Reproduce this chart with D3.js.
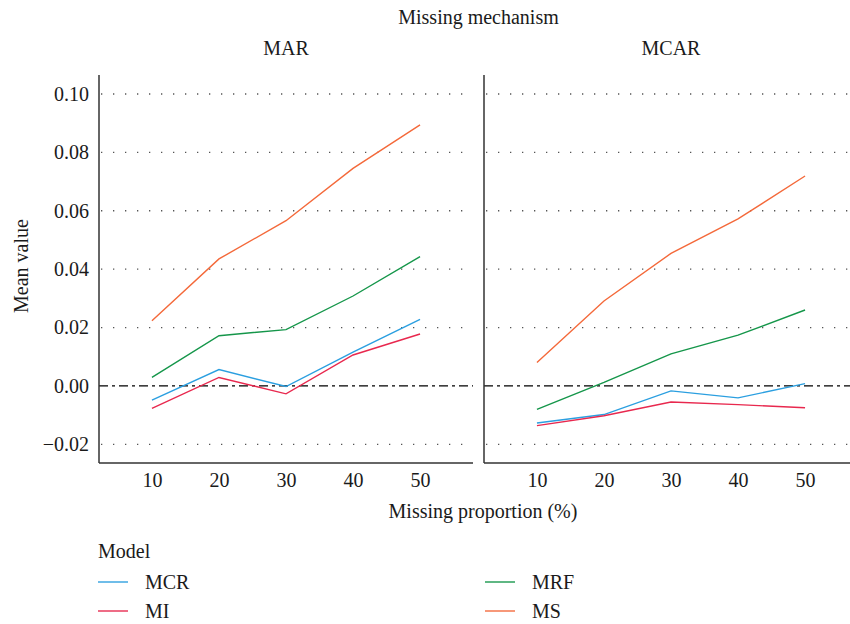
<!DOCTYPE html>
<html><head><meta charset="utf-8">
<script src="https://cdn.jsdelivr.net/npm/d3@7"></script>
<style>body{margin:0;background:#fff}svg{display:block}text{font-family:"Liberation Serif","DejaVu Serif",serif;fill:#1a1a1a}</style>
</head><body>
<script>
const proportions = [10, 20, 30, 40, 50];
const mechanisms = ["MAR", "MCAR"];
const models = ["MCR", "MI", "MRF", "MS"];
const colors = ["#2b9fe0", "#e8284e", "#15964a", "#f4693a"];
const yTicks = [-0.02, 0.00, 0.02, 0.04, 0.06, 0.08, 0.10];
const MAR_MCR = [-0.0049, 0.0056, -0.0002, 0.0116, 0.0228];
const MAR_MI  = [-0.0077, 0.0029, -0.0027, 0.0106, 0.0178];
const MAR_MRF = [0.0029, 0.0172, 0.0193, 0.0308, 0.0443];
const MAR_MS  = [0.0223, 0.0435, 0.0566, 0.0745, 0.0894];
const MCAR_MCR = [-0.0127, -0.0098, -0.0017, -0.0041, 0.0008];
const MCAR_MI  = [-0.0136, -0.0102, -0.0055, -0.0064, -0.0075];
const MCAR_MRF = [-0.0080, 0.0012, 0.0110, 0.0174, 0.0260];
const MCAR_MS  = [0.0080, 0.0291, 0.0454, 0.0572, 0.0719];

const data = {
  MAR: {MCR: MAR_MCR, MI: MAR_MI, MRF: MAR_MRF, MS: MAR_MS},
  MCAR: {MCR: MCAR_MCR, MI: MCAR_MI, MRF: MCAR_MRF, MS: MCAR_MS}
};

const W = 850, H = 624;
const svg = d3.select("body").append("svg").attr("width", W).attr("height", H);
const pTop = 75, pBottom = 463;
const panels = [{name: mechanisms[0], x0: 99, x1: 473}, {name: mechanisms[1], x0: 484, x1: 858}];
const y = d3.scaleLinear().domain([-0.0264, 0.1065]).range([pBottom, pTop]);
const color = d3.scaleOrdinal().domain(models).range(colors);
const fs = 20;

svg.append("text").attr("x", 478.5).attr("y", 24).attr("text-anchor", "middle")
  .style("font-size", fs + "px").text("Missing mechanism");

panels.forEach((p, pi) => {
  const x = d3.scaleLinear().domain([2.1, 57.9]).range([p.x0, p.x1]);
  const g = svg.append("g");
  svg.append("text").attr("x", (p.x0 + p.x1) / 2).attr("y", 55).attr("text-anchor", "middle")
    .style("font-size", fs + "px").text(p.name);
  g.selectAll("line.grid").data(yTicks.filter(t => t !== 0)).join("line")
    .attr("x1", p.x0 + 2).attr("x2", p.x1).attr("y1", d => y(d)).attr("y2", d => y(d))
    .attr("stroke", "#555").attr("stroke-width", 1.3).attr("stroke-dasharray", "1.3,10.7");
  g.append("line").attr("x1", p.x0).attr("x2", p.x1).attr("y1", y(0)).attr("y2", y(0))
    .attr("stroke", "#000").attr("stroke-width", 1.2).attr("stroke-dasharray", "9,4,3,4");
  const line = d3.line().x((d, i) => x(proportions[i])).y(d => y(d));
  models.forEach(m => {
    g.append("path").attr("d", line(data[p.name][m])).attr("fill", "none")
      .attr("stroke", color(m)).attr("stroke-width", 1.4);
  });
  const xAxis = d3.axisBottom(x).tickValues(proportions).tickSize(0).tickPadding(10);
  const ax = svg.append("g").attr("transform", `translate(0,${pBottom})`).call(xAxis);
  ax.select(".domain").attr("stroke", "#333").attr("stroke-width", 1.5)
    .attr("d", `M${p.x0},0H${p.x1}`);
  ax.selectAll("text").style("font-size", fs + "px").attr("fill", "#1a1a1a")
    .style("font-family", '"Liberation Serif",serif');
  const yAxis = d3.axisLeft(y).tickValues(yTicks).tickSize(0).tickPadding(10)
    .tickFormat(d => d3.format(".2f")(d).replace("-", "\u2212"));
  const ay = svg.append("g").attr("transform", `translate(${p.x0},0)`).call(yAxis);
  ay.select(".domain").attr("stroke", "#333").attr("stroke-width", 1.5)
    .attr("d", `M0,${pTop}V${pBottom}`);
  ay.selectAll("text").style("font-size", fs + "px").attr("fill", "#1a1a1a")
    .style("font-family", '"Liberation Serif",serif');
  if (pi > 0) ay.selectAll(".tick").remove();
});

svg.append("text").attr("transform", "translate(28,266) rotate(-90)").attr("text-anchor", "middle")
  .style("font-size", fs + "px").text("Mean value");
svg.append("text").attr("x", 483).attr("y", 518).attr("text-anchor", "middle")
  .style("font-size", fs + "px").text("Missing proportion (%)");

svg.append("text").attr("x", 98).attr("y", 558).style("font-size", fs + "px").text("Model");
const legPos = [{x: 98, y: 582}, {x: 98, y: 611}, {x: 485, y: 582}, {x: 485, y: 611}];
models.forEach((m, i) => {
  const lp = legPos[i];
  svg.append("line").attr("x1", lp.x).attr("x2", lp.x + 30).attr("y1", lp.y).attr("y2", lp.y)
    .attr("stroke", color(m)).attr("stroke-width", 1.6).attr("opacity", 0.85);
  svg.append("text").attr("x", lp.x + 47).attr("y", lp.y + 7).style("font-size", fs + "px").text(m);
});
</script>
</body></html>
